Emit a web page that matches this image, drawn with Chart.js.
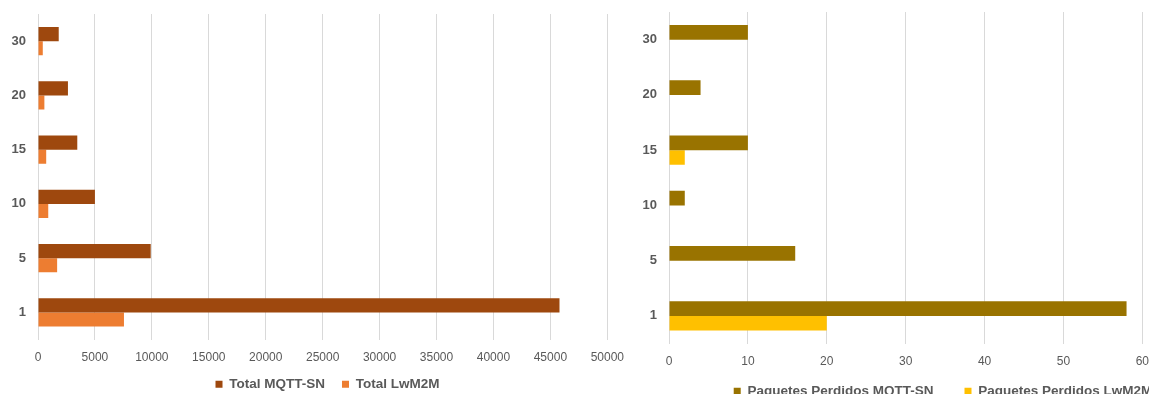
<!DOCTYPE html>
<html>
<head>
<meta charset="utf-8">
<script src="https://cdn.jsdelivr.net/npm/chart.js@4.4.1/dist/chart.umd.min.js"></script>
<style>
    html, body { margin: 0; padding: 0; background: #fff; overflow: hidden; width: 1149px; height: 394px; }
    #izq { position: absolute; left: 0; top: 0; width: 635px; height: 406px; }
    #der { position: absolute; left: 630px; top: 0; width: 530px; height: 424px; }
</style>
</head>
<body>
<div id="izq"><canvas id="graf1"></canvas></div>
<div id="der"><canvas id="graf2"></canvas></div>
<script>
// categorias (numero de nodos)
const categorias = ['1', '5', '10', '15', '20', '30'];

// grafico izquierdo: total de paquetes
const totalMqttSn = [45800, 9900, 5000, 3450, 2630, 1820];
const totalLwm2m = [7550, 1680, 900, 720, 560, 420];
const ticksTotal = [0, 5000, 10000, 15000, 20000, 25000, 30000, 35000, 40000, 45000, 50000];

// grafico derecho: paquetes perdidos
const perdidosMqttSn = [58, 16, 2, 10, 4, 10];
const perdidosLwm2m = [20, 0, 0, 2, 0, 0];
const ticksPerdidos = [0, 10, 20, 30, 40, 50, 60];

const gris = '#595959';
const fuente = "'Liberation Sans', Arial, sans-serif";

// desplaza la leyenda (Excel no la centra del todo)
const moverLeyenda = {
    id: 'moverLeyenda',
    afterLayout: function (chart, args, opts) {
        chart.legend.left += opts.dx;
        chart.legend.right += opts.dx;
        chart.legend.top += opts.dy;
        chart.legend.bottom += opts.dy;
    }
};

function opciones (ticks, anchoY, top, catPct, sepLeyenda, dx, dy) {
    return {
        indexAxis: 'y',
        responsive: true,
        maintainAspectRatio: false,
        animation: false,
        layout: { padding: { left: 0, right: 0, top: top, bottom: 0 } },
        datasets: {
            bar: { categoryPercentage: catPct, barPercentage: 1 }
        },
        plugins: {
            moverLeyenda: { dx: dx, dy: dy },
            legend: {
                position: 'bottom',
                labels: {
                    color: gris,
                    boxWidth: 7,
                    boxHeight: 7,
                    padding: sepLeyenda,
                    font: { family: fuente, size: 13.5, weight: 'bold' }
                }
            },
            tooltip: { enabled: false }
        },
        scales: {
            x: {
                min: ticks[0],
                max: ticks[ticks.length - 1],
                afterBuildTicks: function (scale) {
                    scale.ticks = ticks.map(v => ({ value: v }));
                },
                afterFit: function (scale) { scale.height = 26; },
                grid: { color: '#d9d9d9', drawTicks: false },
                border: { display: false },
                ticks: {
                    color: gris,
                    padding: 11,
                    maxRotation: 0,
                    autoSkip: false,
                    callback: function (v) { return String(v); },
                    font: { family: fuente, size: 12 }
                }
            },
            y: {
                reverse: true,
                afterFit: function (scale) { scale.width = anchoY; },
                grid: { display: false, drawTicks: true, tickLength: 8 },
                border: { display: false },
                ticks: {
                    color: gris,
                    padding: 4,
                    font: { family: fuente, size: 13, weight: 'bold' }
                }
            }
        }
    };
}

new Chart(document.getElementById('graf1').getContext('2d'), {
    type: 'bar',
    data: {
        labels: categorias,
        datasets: [
            { label: 'Total MQTT-SN', data: totalMqttSn, backgroundColor: '#9E480E' },
            { label: 'Total LwM2M', data: totalLwm2m, backgroundColor: '#ED7D31' }
        ]
    },
    options: opciones(ticksTotal, 38, 14, 0.517, 17, 10, -5),
    plugins: [moverLeyenda]
});

new Chart(document.getElementById('graf2').getContext('2d'), {
    type: 'bar',
    data: {
        labels: categorias,
        datasets: [
            { label: 'Paquetes Perdidos MQTT-SN', data: perdidosMqttSn, backgroundColor: '#997300' },
            { label: 'Paquetes Perdidos LwM2M', data: perdidosLwm2m, backgroundColor: '#FFC000' }
        ]
    },
    options: opciones(ticksPerdidos, 39, 12, 0.525, 31, 48, -16),
    plugins: [moverLeyenda]
});
</script>
</body>
</html>
